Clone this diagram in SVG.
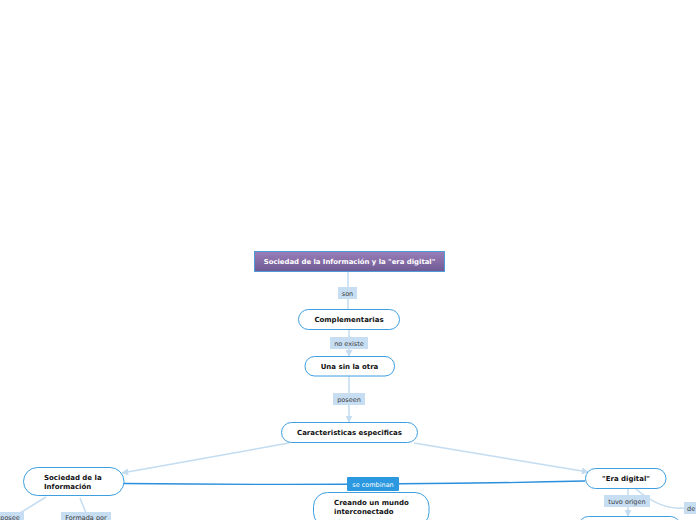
<svg xmlns="http://www.w3.org/2000/svg" width="696" height="520" viewBox="0 0 696 520">
<defs>
<linearGradient id="rootg" x1="0" y1="0" x2="0" y2="1">
<stop offset="0" stop-color="#9a7fb9"/>
<stop offset="1" stop-color="#6f5a93"/>
</linearGradient>
<marker id="ah" viewBox="0 0 10 10" refX="9" refY="5" markerWidth="7" markerHeight="7" markerUnits="userSpaceOnUse" orient="auto">
<path d="M0,0 L10,5 L0,10 z" fill="#c3dcf0"/>
</marker>
<style>
.node rect{fill:#fff;stroke:#3d9ee0;stroke-width:1}
.nt{font-family:"DejaVu Sans",Verdana,sans-serif;font-size:7px;font-weight:bold;fill:#111}
.lt{font-family:"DejaVu Sans",Verdana,sans-serif;font-size:6.5px;fill:#3a3a3a}
.lb{fill:#c7def2}
.c{fill:none;stroke:#c3dcf0;stroke-width:1.5}
</style>
</defs>
<rect width="696" height="520" fill="#fff"/>
<g id="connectors">
<line class="c" x1="348" y1="271" x2="348" y2="309"/>
<line class="c" x1="349" y1="329" x2="349" y2="356" marker-end="url(#ah)"/>
<line class="c" x1="349" y1="376" x2="349" y2="422" marker-end="url(#ah)"/>
<line class="c" x1="289" y1="443" x2="122" y2="473" marker-end="url(#ah)"/>
<line class="c" x1="414" y1="443" x2="588" y2="472" marker-end="url(#ah)"/>
<path d="M124,483.5 Q372,486 585,481" fill="none" stroke="#2a8fdc" stroke-width="1.3"/>
<line class="c" x1="46" y1="497" x2="20" y2="513"/>
<line class="c" x1="80" y1="498" x2="86" y2="513"/>
<line class="c" x1="628" y1="489" x2="628" y2="516" marker-end="url(#ah)"/>
<path class="c" d="M636,489 Q660,510 684,508"/>
<g id="lbl-son"><rect class="lb" x="338" y="287" width="19" height="12"/><text class="lt" x="347.5" y="295.5" text-anchor="middle">son</text></g>
<g id="lbl-noexiste"><rect class="lb" x="330" y="337" width="38" height="12"/><text class="lt" x="349" y="345.5" text-anchor="middle">no existe</text></g>
<g id="lbl-poseen"><rect class="lb" x="333" y="393" width="32" height="12"/><text class="lt" x="349" y="401.5" text-anchor="middle">poseen</text></g>
<g id="lbl-secombinan"><rect x="347" y="477" width="52" height="14" fill="#2b98e0" rx="1"/><text class="lt" x="373" y="486.5" text-anchor="middle" style="fill:#fff">se combinan</text></g>
<g id="lbl-posee"><rect class="lb" x="-2" y="512" width="26" height="10"/><text class="lt" x="10" y="519.5" text-anchor="middle">posee</text></g>
<g id="lbl-formada"><rect class="lb" x="61" y="512" width="50" height="10"/><text class="lt" x="86" y="519.5" text-anchor="middle">Formada por</text></g>
<g id="lbl-tuvo"><rect class="lb" x="604" y="495" width="46" height="12"/><text class="lt" x="627" y="503.5" text-anchor="middle">tuvo origen</text></g>
<g id="lbl-de"><rect class="lb" x="684" y="502" width="14" height="12"/><text class="lt" x="687" y="510.5">de</text></g>
</g>
<g id="root"><rect x="254.5" y="251.5" width="190" height="20" fill="url(#rootg)" stroke="#4f9ad8" stroke-width="1"/><text class="nt" x="349.5" y="264" text-anchor="middle" style="fill:#fff;font-size:6.9px">Sociedad de la Información y la "era digital"</text></g>
<g id="n-complementarias" class="node"><rect x="298.5" y="309.5" width="101" height="20" rx="10"/><text class="nt" x="349" y="322" text-anchor="middle">Complementarias</text></g>
<g id="n-unasin" class="node"><rect x="305" y="356.5" width="89.5" height="19.5" rx="9.5"/><text class="nt" x="349.5" y="369" text-anchor="middle">Una sin la otra</text></g>
<g id="n-caracteristicas" class="node"><rect x="281.5" y="422.5" width="136" height="20" rx="10"/><text class="nt" x="349.5" y="435" text-anchor="middle">Caracteristicas especificas</text></g>
<g id="n-sociedad" class="node"><rect x="23.5" y="467.5" width="100.5" height="28" rx="14"/><text class="nt" x="44" y="480">Sociedad de la</text><text class="nt" x="44" y="488.5">Información</text></g>
<g id="n-eradigital" class="node"><rect x="585.5" y="468.5" width="80.5" height="20" rx="10"/><text class="nt" x="626" y="481" text-anchor="middle">"Era digital"</text></g>
<g id="n-creando" class="node"><rect x="313.5" y="492.5" width="115.5" height="34" rx="14"/><text class="nt" x="334" y="505">Creando un mundo</text><text class="nt" x="334" y="514">interconectado</text></g>
<g id="n-origen" class="node"><rect x="578.5" y="516.5" width="102" height="20" rx="10"/></g>
</svg>
